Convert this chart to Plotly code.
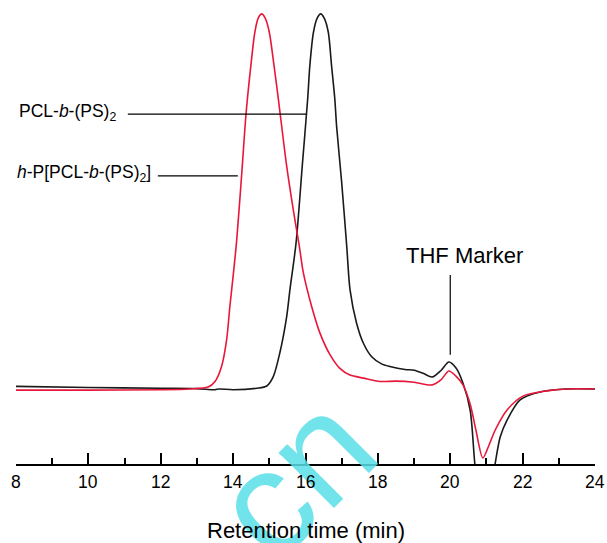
import plotly.graph_objects as go

# GPC traces (normalised detector response vs retention time, min)
t_star = [8.0, 10.0, 12.0, 13.0, 13.5, 13.6, 14.0, 14.65, 14.93, 15.11, 15.29, 15.48,
          15.57, 15.74, 15.91, 16.06, 16.12, 16.22, 16.32, 16.42, 16.52, 16.63, 16.72,
          16.81, 16.86, 17.0, 17.14, 17.23, 17.41, 17.6, 17.83, 18.1, 18.33, 18.75, 19.0,
          19.25, 19.5, 19.75, 19.96, 20.16, 20.35, 20.55, 20.68, 20.8, 20.95, 21.1, 21.24,
          21.38, 21.57, 21.93, 22.48, 23.22, 24.0]
r_star = [0.007, 0.004, 0.002, 0.001, -0.002, 0.0, -0.002, 0.002, 0.008, 0.033, 0.096,
          0.193, 0.265, 0.39, 0.594, 0.773, 0.862, 0.951, 0.988, 1.0, 0.988, 0.951, 0.862,
          0.773, 0.70, 0.55, 0.38, 0.265, 0.176, 0.122, 0.086, 0.067, 0.06, 0.052, 0.05,
          0.042, 0.032, 0.05, 0.072, 0.056, 0.016, -0.056, -0.2, -0.29, -0.33, -0.29, -0.2,
          -0.128, -0.083, -0.029, -0.008, 0.0, 0.0]

t_hyper = [8.0, 10.0, 12.0, 12.8, 13.31, 13.5, 13.68, 13.82, 13.91, 14.01, 14.10, 14.24,
           14.36, 14.49, 14.60, 14.69, 14.79, 14.89, 15.0, 15.13, 15.25, 15.48, 15.66,
           15.83, 15.94, 16.17, 16.4, 16.68, 16.95, 17.23, 17.6, 18.06, 18.5, 19.0, 19.5,
           19.75, 19.96, 20.15, 20.35, 20.55, 20.71, 20.9, 21.07, 21.24, 21.57, 22.01,
           22.67, 23.22, 24.0]
r_hyper = [-0.003, -0.003, -0.002, 0.0, 0.005, 0.02, 0.06, 0.131, 0.22, 0.31, 0.398, 0.577,
           0.737, 0.862, 0.951, 0.988, 1.0, 0.988, 0.951, 0.862, 0.773, 0.594, 0.479, 0.38,
           0.31, 0.22, 0.149, 0.091, 0.055, 0.037, 0.029, 0.02, 0.021, 0.018, 0.011, 0.025,
           0.048, 0.035, 0.011, -0.04, -0.11, -0.184, -0.15, -0.11, -0.056, -0.019, -0.005,
           0.0, 0.0]

x_ticks = [8, 10, 12, 14, 16, 18, 20, 22, 24]

FONT = "Liberation Sans, Arial, sans-serif"

fig = go.Figure()
fig.add_trace(go.Scatter(x=t_star, y=r_star, mode="lines", line_shape="spline",
                         line=dict(color="#1a1a1a", width=1.6, smoothing=0.8),
                         showlegend=False, hoverinfo="skip"))
fig.add_trace(go.Scatter(x=t_hyper, y=r_hyper, mode="lines", line_shape="spline",
                         line=dict(color="#e8173a", width=1.6, smoothing=0.8),
                         showlegend=False, hoverinfo="skip"))

# leader lines for the labels
shapes = [
    dict(type="line", xref="x", yref="y", x0=11.09, x1=16.02, y0=0.733, y1=0.733,
         line=dict(color="black", width=1.2)),
    dict(type="line", xref="x", yref="y", x0=11.92, x1=14.13, y0=0.568, y1=0.568,
         line=dict(color="black", width=1.2)),
    dict(type="line", xref="x", yref="y", x0=20.0, x1=20.0, y0=0.304, y1=0.091,
         line=dict(color="black", width=1.2)),
]

# the watermark goes first so every later text sits on top of it
annotations = [
    dict(text="cn", xref="paper", yref="paper", x=0.5, y=0.0, xanchor="center",
         yanchor="middle", xshift=-13, yshift=-12, textangle=-45, showarrow=False,
         font=dict(family=FONT, size=148, color="rgba(88,222,232,0.85)")),
]
for v in x_ticks:
    annotations.append(dict(text=str(v), xref="x", yref="paper", x=v, y=0.0,
                            xanchor="center", yanchor="middle", yshift=-18,
                            showarrow=False,
                            font=dict(family=FONT, size=17.5, color="black")))
annotations += [
    dict(text="PCL-<i>b</i>-(PS)<sub>2</sub>", xref="x", yref="y", x=11.09, y=0.733,
         xanchor="right", yanchor="middle", xshift=-10, yshift=2, showarrow=False,
         font=dict(family=FONT, size=17.5, color="black")),
    dict(text="<i>h</i>-P[PCL-<i>b</i>-(PS)<sub>2</sub>]", xref="x", yref="y", x=11.92,
         y=0.568, xanchor="right", yanchor="middle", xshift=-5, yshift=2, showarrow=False,
         font=dict(family=FONT, size=17.5, color="black")),
    dict(text="THF Marker", xref="x", yref="y", x=20.0, y=0.355, xanchor="center",
         yanchor="middle", xshift=14, showarrow=False,
         font=dict(family=FONT, size=22, color="black")),
    dict(text="Retention time (min)", xref="paper", yref="paper", x=0.5, y=0.0,
         xanchor="center", yanchor="middle", yshift=-66, showarrow=False,
         font=dict(family=FONT, size=22, color="black")),
]

fig.update_layout(
    width=607, height=543,
    margin=dict(l=16, r=12, t=0, b=79),
    paper_bgcolor="white", plot_bgcolor="white",
    shapes=shapes, annotations=annotations,
    xaxis=dict(range=[8, 24], tickmode="array", tickvals=x_ticks, showticklabels=False,
               ticks="inside", ticklen=11, tickwidth=1.5, tickcolor="black",
               showline=True, linecolor="black", linewidth=1.5, showgrid=False,
               zeroline=False,
               minor=dict(tick0=8, dtick=1, ticks="inside", ticklen=6, tickwidth=1.5,
                          tickcolor="black", showgrid=False)),
    yaxis=dict(range=[-0.2, 1.037], visible=False, showgrid=False, zeroline=False),
)

fig.write_html("out.html")
